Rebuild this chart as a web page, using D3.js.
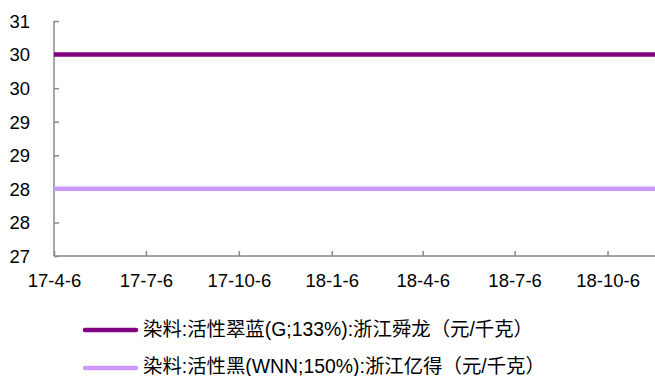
<!DOCTYPE html>
<html>
<head>
<meta charset="utf-8">
<script src="https://cdn.jsdelivr.net/npm/d3@7/dist/d3.min.js"></script>
<style>
  html, body { margin: 0; padding: 0; background: #fff; }
  svg { display: block; }
  text { font-family: "Liberation Sans", Arial, "Noto Sans CJK SC", sans-serif; fill: #000; }
</style>
</head>
<body>
<svg id="chart" width="655" height="376"></svg>
<script>
// ---- data ----
const dates = ["2017-04-06", "2017-07-06", "2017-10-06", "2018-01-06", "2018-04-06", "2018-07-06", "2018-10-06", "2018-11-22"];
const seriesNames = ["染料:活性翠蓝(G;133%):浙江舜龙（元/千克）", "染料:活性黑(WNN;150%):浙江亿得（元/千克）"];
const seriesG = [30, 30, 30, 30, 30, 30, 30, 30];
const seriesWNN = [28, 28, 28, 28, 28, 28, 28, 28];
const seriesColors = ["#800080", "#CC99FF"];
const yTickValues = [27, 27.5, 28, 28.5, 29, 29.5, 30, 30.5];
const yTickLabels = ["27", "28", "28", "29", "29", "30", "30", "31"];
const xTickDates = ["2017-04-06", "2017-07-06", "2017-10-06", "2018-01-06", "2018-04-06", "2018-07-06", "2018-10-06"];
const xTickLabels = ["17-4-6", "17-7-6", "17-10-6", "18-1-6", "18-4-6", "18-7-6", "18-10-6"];
const xDomain = ["2017-04-06", "2018-11-22"];
const yDomain = [27, 30.5];

// ---- chart ----
(function () {
const parse = d3.utcParse("%Y-%m-%d");
const svg = d3.select("#chart");
const mLeft = 54, mRight = 655, mTop = 21, mBottom = 256;

const x = d3.scaleUtc().domain(xDomain.map(parse)).range([mLeft, mRight]);
const y = d3.scaleLinear().domain(yDomain).range([mBottom, mTop]);

const axisColor = "#8a8a8a";

// Y axis
const yAxis = d3.axisRight(y)
  .tickValues(yTickValues)
  .tickSize(5)
  .tickFormat((d, i) => yTickLabels[i]);
const gy = svg.append("g").attr("transform", `translate(${mLeft},0)`).call(yAxis);
gy.select(".domain").remove();
gy.selectAll(".tick line").attr("stroke", axisColor).attr("stroke-width", 1.5);
gy.selectAll(".tick text")
  .attr("x", -24).attr("dy", null).attr("y", 6.3)
  .attr("text-anchor", "end")
  .style("font-size", "18.5px");
svg.append("line").attr("x1", mLeft).attr("x2", mLeft).attr("y1", mTop).attr("y2", mBottom)
  .attr("stroke", axisColor).attr("stroke-width", 1.5);

// X axis
const xTicks = xTickDates.map(parse);
const xAxis = d3.axisTop(x)
  .tickValues(xTicks)
  .tickSize(5)
  .tickFormat((d, i) => xTickLabels[i]);
const gx = svg.append("g").attr("transform", `translate(0,${mBottom})`).call(xAxis);
gx.select(".domain").remove();
gx.selectAll(".tick line").attr("stroke", axisColor).attr("stroke-width", 1.5);
gx.selectAll(".tick text")
  .attr("y", 31.2).attr("dy", null)
  .attr("text-anchor", "middle")
  .style("font-size", "18.5px");
svg.append("line").attr("x1", mLeft).attr("x2", mRight).attr("y1", mBottom).attr("y2", mBottom)
  .attr("stroke", axisColor).attr("stroke-width", 1.5);

// Lines
const series = [seriesG, seriesWNN];
const line = d3.line().x(d => x(d.date)).y(d => y(d.value));
series.forEach((vals, si) => {
  const pts = dates.map((d, i) => ({ date: parse(d), value: vals[i] }));
  svg.append("path").datum(pts)
    .attr("d", line)
    .attr("fill", "none")
    .attr("stroke", seriesColors[si])
    .attr("stroke-width", 4.5);
});

// Legend
const legendY = [330, 368];
const textDy = [6, 4.8];
seriesNames.forEach((name, i) => {
  const g = svg.append("g");
  g.append("line").attr("x1", 85).attr("x2", 136).attr("y1", legendY[i]).attr("y2", legendY[i])
    .attr("stroke", seriesColors[i]).attr("stroke-width", 4.5).attr("stroke-linecap", "round");
  g.append("text").attr("x", 143).attr("y", legendY[i] + textDy[i])
    .style("font-size", "19.4px")
    .text(name);
});
})();
</script>
</body>
</html>
